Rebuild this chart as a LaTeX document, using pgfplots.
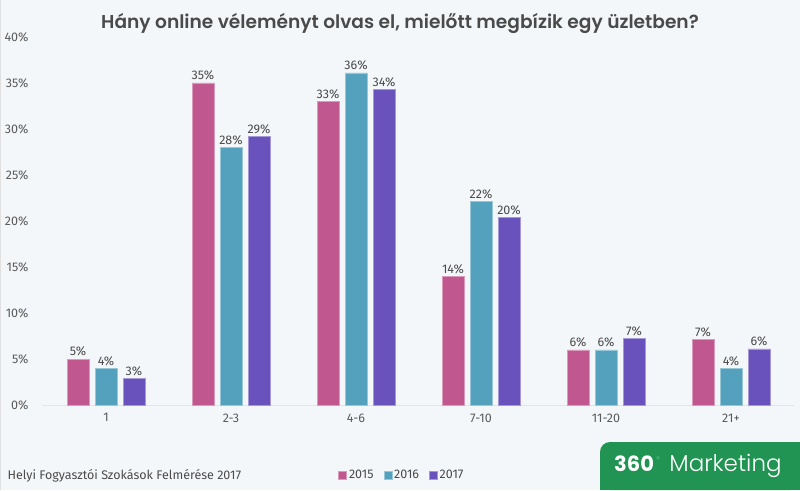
\documentclass[border=0pt]{standalone}
\usepackage{pgfplots}
\pgfplotsset{compat=1.18}
\usepackage{fontspec}
\setmainfont{Fira Sans}
\newfontfamily\titlefont{Poppins SemiBold}
\newfontfamily\logobold{Poppins Bold}
\newfontfamily\logolight{Poppins Light}
\newfontfamily\degfont{DejaVu Sans}
\definecolor{bg}{HTML}{F4F7FA}
\definecolor{c15}{HTML}{C0578F}
\definecolor{c16}{HTML}{53A1BC}
\definecolor{c17}{HTML}{6A52BC}
\definecolor{txt}{HTML}{4A4A4A}
\definecolor{tick}{HTML}{5A5A5A}
\definecolor{green360}{HTML}{219454}
\definecolor{deg}{HTML}{5CC38A}
\begin{document}
\begin{tikzpicture}[x=1pt,y=1pt]
\fill[bg] (0,0) rectangle (800,490);
\useasboundingbox (0,0) rectangle (800,490);
\draw[black!12, line width=1pt] (0.5,0) -- (0.5,490);
\begin{axis}[
  at={(42pt,85pt)}, anchor=south west,
  scale only axis, width=751.5pt, height=368pt,
  ybar=6pt, bar width=22pt,
  xmin=-0.512, xmax=5.5, ymin=0, ymax=40,
  xtick={0,1,2,3,4,5},
  xticklabels={1,2-3,4-6,7-10,11-20,21+},
  ytick={0,5,...,40},
  yticklabel={\pgfmathprintnumber{\tick}\%},
  /pgf/number format/assume math mode=true,
  axis x line*=bottom, axis y line*=left,
  axis line style={-},
  x axis line style={draw=black!10},
  y axis line style={draw=none},
  major tick length=0pt,
  tick label style={font=\fontsize{12.5}{14}\selectfont, text=tick},
  yticklabel style={xshift=-10pt, anchor=east},
  xticklabel style={yshift=-5pt},
  nodes near coords={\pgfmathprintnumber[fixed,precision=0]{\pgfplotspointmeta}\%},
  nodes near coords style={font=\fontsize{12.5}{14}\selectfont, text=txt, /pgf/number format/assume math mode=true, yshift=-1pt},
  legend columns=3,
  legend style={at={(0.479,-0.19)}, anchor=center, draw=none, fill=none,
    font=\fontsize{12.5}{14}\selectfont, text=txt,
    /tikz/every even column/.append style={column sep=8pt}},
  legend image code/.code={\fill[#1] (0pt,-4pt) rectangle (8pt,4pt);},
]
\addplot[fill=c15, draw=c15!60!white, line width=0.6pt] coordinates {(0,5) (1,35) (2,33) (3,14) (4,6) (5,7.1)};
\addplot[fill=c16, draw=c16!60!white, line width=0.6pt] coordinates {(0,4) (1,28) (2,36.1) (3,22.1) (4,6) (5,4)};
\addplot[fill=c17, draw=c17!60!white, line width=0.6pt] coordinates {(0,2.9) (1,29.2) (2,34.3) (3,20.4) (4,7.2) (5,6.1)};
\legend{2015,2016,2017}
\end{axis}
\node[text=txt, font=\fontsize{18.6}{22}\selectfont\titlefont] at (400,467) {Hány online véleményt olvas el, mielőtt megbízik egy üzletben?};
\node[text=txt, anchor=west, font=\fontsize{12.5}{14}\selectfont] at (4,14) {Helyi Fogyasztói Szokások Felmérése 2017};
\fill[green360, rounded corners=10pt] (600,0) -- (600,48) -- (800,48) -- (800,0) -- cycle;
\fill[green360] (600,0) rectangle (612,20);
\fill[green360] (610,0) rectangle (800,48);
\node[anchor=west, text=white, inner sep=0pt] at (614,24) {\fontsize{21}{26}\selectfont\logobold 360\hspace{2pt}\raisebox{8pt}{\textcolor{deg}{\fontsize{9}{10}\selectfont\degfont °}}\hspace{9pt}\fontsize{23}{26}\selectfont\logolight Marketing};
\end{tikzpicture}
\end{document}
